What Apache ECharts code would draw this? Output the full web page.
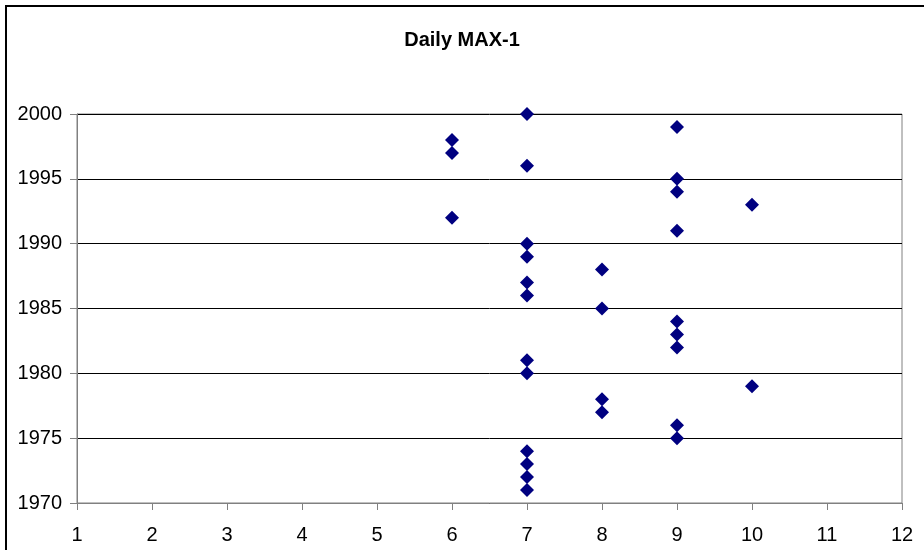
<!DOCTYPE html>
<html><head><meta charset="utf-8">
<script src="https://cdn.jsdelivr.net/npm/echarts@6/dist/echarts.min.js"></script>
<style>html,body{margin:0;padding:0;background:#fff}#c{width:924px;height:550px;}</style>
</head><body><div id="c"></div>
<script>
const titleText = "Daily MAX-1";
const months = [6,6,6, 7,7,7,7,7,7,7,7,7,7,7,7, 8,8,8,8, 9,9,9,9,9,9,9,9,9, 10,10];
const years  = [1998,1997,1992, 2000,1996,1990,1989,1987,1986,1981,1980,1974,1973,1972,1971, 1988,1985,1978,1977, 1999,1995,1994,1991,1984,1983,1982,1976,1975, 1993,1979];
const points = months.map((m,i)=>[m, years[i]]);
const chart = echarts.init(document.getElementById('c'));
const font = 'Liberation Sans, Arial, sans-serif';
chart.setOption({
  animation:false,
  graphic:[{type:'rect',shape:{x:6,y:6,width:940,height:560},style:{fill:null,stroke:'#000',lineWidth:2},z:-1}],
  title:{text:titleText,left:'center',top:25,textStyle:{fontFamily:font,fontSize:20,fontWeight:'bold',color:'#000'}},
  grid:{left:77,right:22,top:114,bottom:47,show:true,borderColor:'#808080',borderWidth:1},
  xAxis:{type:'value',min:1,max:12,interval:1,
    axisLine:{show:true,onZero:false,lineStyle:{color:'#808080',width:1}},
    axisTick:{show:true,length:7,lineStyle:{color:'#808080'}},
    axisLabel:{fontFamily:font,fontSize:20,color:'#000',margin:22},
    splitLine:{show:false}},
  yAxis:{type:'value',min:1970,max:2000,interval:5,
    axisLine:{show:true,lineStyle:{color:'#808080',width:1}},
    axisTick:{show:true,length:7,lineStyle:{color:'#808080'}},
    axisLabel:{fontFamily:font,fontSize:20,color:'#000',margin:15,formatter:v=>String(v)},
    splitLine:{show:true,lineStyle:{color:'#000',width:1}}},
  series:[{type:'scatter',data:points,symbol:'diamond',symbolSize:14,itemStyle:{color:'#000080',opacity:1}}]
});
</script></body></html>
